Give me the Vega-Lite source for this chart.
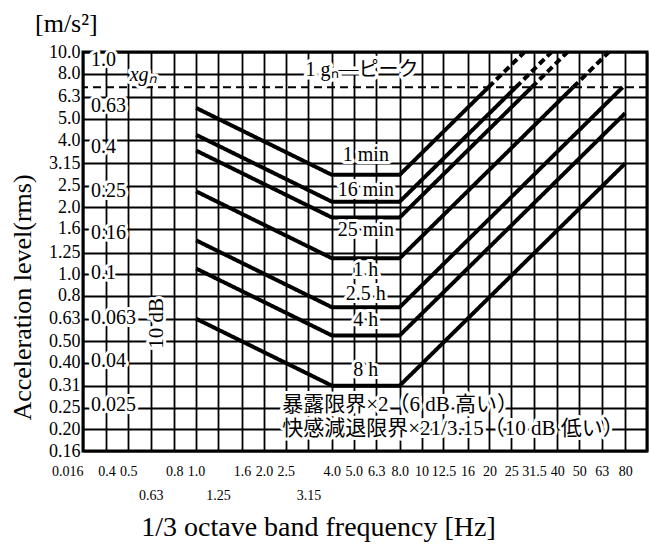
{
  "$schema": "https://vega.github.io/schema/vega-lite/v6.json",
  "width": 564,
  "height": 399,
  "autosize": "none",
  "padding": {"left": 83, "top": 52, "right": 2, "bottom": 93},
  "background": "white",
  "config": {
    "font": "Liberation Serif",
    "view": {"stroke": "black", "strokeWidth": 3}
  },
  "title": {
    "text": "[m/s²]",
    "anchor": "start",
    "frame": "group",
    "dx": -48,
    "offset": 6,
    "font": "Liberation Serif",
    "fontSize": 26,
    "fontWeight": "normal",
    "color": "black"
  },
  "datasets": {
    "curves": [
      {"c": "1 min", "g": "1 min s", "s": "solid", "f": 1, "a": 5.6},
      {"c": "1 min", "g": "1 min s", "s": "solid", "f": 4, "a": 2.8},
      {"c": "1 min", "g": "1 min s", "s": "solid", "f": 8, "a": 2.8},
      {"c": "1 min", "g": "1 min s", "s": "solid", "f": 19.8, "a": 6.94},
      {"c": "1 min", "g": "1 min d", "s": "dashed", "f": 19.8, "a": 6.94},
      {"c": "1 min", "g": "1 min d", "s": "dashed", "f": 28.6, "a": 10},
      {"c": "16 min", "g": "16 min s", "s": "solid", "f": 1, "a": 4.24},
      {"c": "16 min", "g": "16 min s", "s": "solid", "f": 4, "a": 2.12},
      {"c": "16 min", "g": "16 min s", "s": "solid", "f": 8, "a": 2.12},
      {"c": "16 min", "g": "16 min s", "s": "solid", "f": 26.2, "a": 6.94},
      {"c": "16 min", "g": "16 min d", "s": "dashed", "f": 26.2, "a": 6.94},
      {"c": "16 min", "g": "16 min d", "s": "dashed", "f": 37.7, "a": 10},
      {"c": "25 min", "g": "25 min s", "s": "solid", "f": 1, "a": 3.6},
      {"c": "25 min", "g": "25 min s", "s": "solid", "f": 4, "a": 1.8},
      {"c": "25 min", "g": "25 min s", "s": "solid", "f": 8, "a": 1.8},
      {"c": "25 min", "g": "25 min s", "s": "solid", "f": 30.8, "a": 6.94},
      {"c": "25 min", "g": "25 min d", "s": "dashed", "f": 30.8, "a": 6.94},
      {"c": "25 min", "g": "25 min d", "s": "dashed", "f": 44.4, "a": 10},
      {"c": "1 h", "g": "1 h s", "s": "solid", "f": 1, "a": 2.36},
      {"c": "1 h", "g": "1 h s", "s": "solid", "f": 4, "a": 1.18},
      {"c": "1 h", "g": "1 h s", "s": "solid", "f": 8, "a": 1.18},
      {"c": "1 h", "g": "1 h s", "s": "solid", "f": 47, "a": 6.94},
      {"c": "1 h", "g": "1 h d", "s": "dashed", "f": 47, "a": 6.94},
      {"c": "1 h", "g": "1 h d", "s": "dashed", "f": 67.8, "a": 10},
      {"c": "2.5 h", "g": "2.5 h s", "s": "solid", "f": 1, "a": 1.42},
      {"c": "2.5 h", "g": "2.5 h s", "s": "solid", "f": 4, "a": 0.71},
      {"c": "2.5 h", "g": "2.5 h s", "s": "solid", "f": 8, "a": 0.71},
      {"c": "2.5 h", "g": "2.5 h s", "s": "solid", "f": 78, "a": 6.94},
      {"c": "4 h", "g": "4 h s", "s": "solid", "f": 1, "a": 1.06},
      {"c": "4 h", "g": "4 h s", "s": "solid", "f": 4, "a": 0.53},
      {"c": "4 h", "g": "4 h s", "s": "solid", "f": 8, "a": 0.53},
      {"c": "4 h", "g": "4 h s", "s": "solid", "f": 80, "a": 5.3},
      {"c": "8 h", "g": "8 h s", "s": "solid", "f": 1, "a": 0.63},
      {"c": "8 h", "g": "8 h s", "s": "solid", "f": 4, "a": 0.315},
      {"c": "8 h", "g": "8 h s", "s": "solid", "f": 8, "a": 0.315},
      {"c": "8 h", "g": "8 h s", "s": "solid", "f": 80, "a": 3.15}
    ],
    "curveLabels": [
      {"t": "1 min", "f": 5.66, "a": 3.45},
      {"t": "16 min", "f": 5.66, "a": 2.4},
      {"t": "25 min", "f": 5.66, "a": 1.58},
      {"t": "1 h", "f": 5.66, "a": 1.046},
      {"t": "2.5 h", "f": 5.66, "a": 0.815},
      {"t": "4 h", "f": 5.66, "a": 0.623},
      {"t": "8 h", "f": 5.66, "a": 0.37}
    ],
    "inner": [
      {"t": "1.0", "a": 9.23},
      {"t": "0.63", "a": 5.73},
      {"t": "0.4", "a": 3.74},
      {"t": "0.25", "a": 2.37},
      {"t": "0.16", "a": 1.53},
      {"t": "0.1", "a": 1.01},
      {"t": "0.063", "a": 0.635},
      {"t": "0.04", "a": 0.407},
      {"t": "0.025", "a": 0.258}
    ],
    "notes": [
      {"t": "暴露限界×2（6 dB 高い）", "f": 2.41, "a": 0.258},
      {"t": "快感減退限界×21/3.15（10 dB 低い）", "f": 2.41, "a": 0.201}
    ],
    "peak": [
      {"t": "1 gₙ—ピーク", "f": 5.45, "a": 8.32, "ref": 6.94}
    ],
    "xg": [
      {"t": "xgₙ", "f": 0.582, "a": 7.9}
    ],
    "db": [
      {"t": "10 dB", "f": 0.671, "a": 0.6}
    ]
  },
  "layer": [
    {
      "data": {"name": "curves"},
      "mark": {"type": "line", "color": "black", "strokeWidth": 4, "strokeCap": "butt", "strokeJoin": "miter"},
      "encoding": {
        "x": {
          "field": "f",
          "type": "quantitative",
          "scale": {"type": "log", "domain": [0.315, 100], "nice": false},
          "axis": {
            "values": [0.315, 0.4, 0.5, 0.63, 0.8, 1, 1.25, 1.6, 2, 2.5, 3.15, 4, 5, 6.3, 8, 10, 12.5, 16, 20, 25, 31.5, 40, 50, 63, 80, 100],
            "grid": true,
            "gridColor": "black",
            "gridWidth": 1.8,
            "gridOpacity": 1,
            "domain": false,
            "ticks": false,
            "labelExpr": "datum.value < 0.35 ? '0.016' : datum.value > 90 ? '' : datum.value >= 10 ? format(datum.value, '.3~g') : (abs(datum.value - 0.63) < 0.01 || abs(datum.value - 1.25) < 0.01 || abs(datum.value - 3.15) < 0.01) ? format(datum.value, '.2f') : format(datum.value, '.1f')",
            "labelFont": "Liberation Serif",
            "labelFontSize": 14,
            "labelColor": "black",
            "labelPadding": {"condition": {"test": "abs(datum.value - 0.63) < 0.01 || abs(datum.value - 1.25) < 0.01 || abs(datum.value - 3.15) < 0.01", "value": 37}, "value": 13},
            "labelAlign": {"condition": {"test": "datum.value < 0.35", "value": "right"}, "value": "center"},
            "labelOverlap": false,
            "labelBound": false,
            "labelFlush": false,
            "title": "1/3 octave band frequency [Hz]",
            "titleFont": "Liberation Serif",
            "titleFontSize": 28,
            "titleFontWeight": "normal",
            "titleColor": "black",
            "titleX": 235,
            "titleY": 76,
            "titleBaseline": "middle",
            "titleAlign": "center"
          }
        },
        "y": {
          "field": "a",
          "type": "quantitative",
          "scale": {"type": "log", "domain": [0.16, 10], "nice": false},
          "axis": {
            "values": [0.16, 0.2, 0.25, 0.315, 0.4, 0.5, 0.63, 0.8, 1, 1.25, 1.6, 2, 2.5, 3.15, 4, 5, 6.3, 8, 10],
            "grid": true,
            "gridColor": "black",
            "gridWidth": 1.8,
            "gridOpacity": 1,
            "domain": false,
            "ticks": false,
            "labelExpr": "datum.value == 0.315 ? '0.31' : (datum.value == 3.15 || datum.value == 1.25 || datum.value < 0.7) ? format(datum.value, '.2f') : format(datum.value, '.1f')",
            "labelFont": "Liberation Serif",
            "labelFontSize": 18,
            "labelColor": "black",
            "labelPadding": 3,
            "labelOverlap": false,
            "labelBound": false,
            "labelFlush": false,
            "title": "Acceleration level(rms)",
            "titleFont": "Liberation Serif",
            "titleFontSize": 26,
            "titleFontWeight": "normal",
            "titleColor": "black",
            "titleAngle": 270,
            "titleX": -61,
            "titleY": 245,
            "titleBaseline": "middle",
            "titleAlign": "center"
          }
        },
        "detail": {"field": "g", "type": "nominal"},
        "strokeDash": {"field": "s", "type": "nominal", "scale": {"domain": ["solid", "dashed"], "range": [[1, 0], [7, 4]]}, "legend": null}
      }
    },
    {
      "data": {"name": "peak"},
      "mark": {"type": "rule", "color": "black", "strokeWidth": 2, "strokeDash": [8, 5]},
      "encoding": {
        "y": {"field": "ref", "type": "quantitative"}
      }
    },
    {
      "data": {"name": "curveLabels"},
      "mark": {"type": "text", "fontSize": 20, "font": "Liberation Serif", "color": "white", "stroke": "white", "strokeWidth": 6, "strokeJoin": "round", "align": "center", "baseline": "middle"},
      "encoding": {"x": {"field": "f", "type": "quantitative"}, "y": {"field": "a", "type": "quantitative"}, "text": {"field": "t"}}
    },
    {
      "data": {"name": "curveLabels"},
      "mark": {"type": "text", "fontSize": 20, "font": "Liberation Serif", "color": "black", "align": "center", "baseline": "middle"},
      "encoding": {"x": {"field": "f", "type": "quantitative"}, "y": {"field": "a", "type": "quantitative"}, "text": {"field": "t"}}
    },
    {
      "data": {"name": "inner"},
      "mark": {"type": "text", "fontSize": 20, "font": "Liberation Serif", "color": "white", "stroke": "white", "strokeWidth": 6, "strokeJoin": "round", "align": "left", "baseline": "middle"},
      "encoding": {"x": {"datum": 0.342, "type": "quantitative"}, "y": {"field": "a", "type": "quantitative"}, "text": {"field": "t"}}
    },
    {
      "data": {"name": "inner"},
      "mark": {"type": "text", "fontSize": 20, "font": "Liberation Serif", "color": "black", "align": "left", "baseline": "middle"},
      "encoding": {"x": {"datum": 0.342, "type": "quantitative"}, "y": {"field": "a", "type": "quantitative"}, "text": {"field": "t"}}
    },
    {
      "data": {"name": "notes"},
      "mark": {"type": "text", "fontSize": 21, "font": "Liberation Serif, Noto Sans CJK JP", "color": "white", "stroke": "white", "strokeWidth": 6, "strokeJoin": "round", "align": "left", "baseline": "middle", "clip": true},
      "encoding": {"x": {"field": "f", "type": "quantitative"}, "y": {"field": "a", "type": "quantitative"}, "text": {"field": "t"}}
    },
    {
      "data": {"name": "notes"},
      "mark": {"type": "text", "fontSize": 21, "font": "Liberation Serif, Noto Sans CJK JP", "color": "black", "align": "left", "baseline": "middle", "clip": true},
      "encoding": {"x": {"field": "f", "type": "quantitative"}, "y": {"field": "a", "type": "quantitative"}, "text": {"field": "t"}}
    },
    {
      "data": {"name": "peak"},
      "mark": {"type": "text", "fontSize": 20, "font": "Liberation Serif, Noto Sans CJK JP", "color": "white", "stroke": "white", "strokeWidth": 7, "strokeJoin": "round", "align": "center", "baseline": "middle"},
      "encoding": {"x": {"field": "f", "type": "quantitative"}, "y": {"field": "a", "type": "quantitative"}, "text": {"field": "t"}}
    },
    {
      "data": {"name": "peak"},
      "mark": {"type": "text", "fontSize": 20, "font": "Liberation Serif, Noto Sans CJK JP", "color": "black", "align": "center", "baseline": "middle"},
      "encoding": {"x": {"field": "f", "type": "quantitative"}, "y": {"field": "a", "type": "quantitative"}, "text": {"field": "t"}}
    },
    {
      "data": {"name": "xg"},
      "mark": {"type": "text", "fontSize": 20, "font": "Liberation Serif", "fontStyle": "italic", "color": "white", "stroke": "white", "strokeWidth": 6, "strokeJoin": "round", "align": "center", "baseline": "middle"},
      "encoding": {"x": {"field": "f", "type": "quantitative"}, "y": {"field": "a", "type": "quantitative"}, "text": {"field": "t"}}
    },
    {
      "data": {"name": "xg"},
      "mark": {"type": "text", "fontSize": 20, "font": "Liberation Serif", "fontStyle": "italic", "color": "black", "align": "center", "baseline": "middle"},
      "encoding": {"x": {"field": "f", "type": "quantitative"}, "y": {"field": "a", "type": "quantitative"}, "text": {"field": "t"}}
    },
    {
      "data": {"name": "db"},
      "mark": {"type": "text", "fontSize": 21, "font": "Liberation Serif", "color": "white", "stroke": "white", "strokeWidth": 6, "strokeJoin": "round", "align": "center", "baseline": "middle", "angle": 270},
      "encoding": {"x": {"field": "f", "type": "quantitative"}, "y": {"field": "a", "type": "quantitative"}, "text": {"field": "t"}}
    },
    {
      "data": {"name": "db"},
      "mark": {"type": "text", "fontSize": 21, "font": "Liberation Serif", "color": "black", "align": "center", "baseline": "middle", "angle": 270},
      "encoding": {"x": {"field": "f", "type": "quantitative"}, "y": {"field": "a", "type": "quantitative"}, "text": {"field": "t"}}
    }
  ]
}
